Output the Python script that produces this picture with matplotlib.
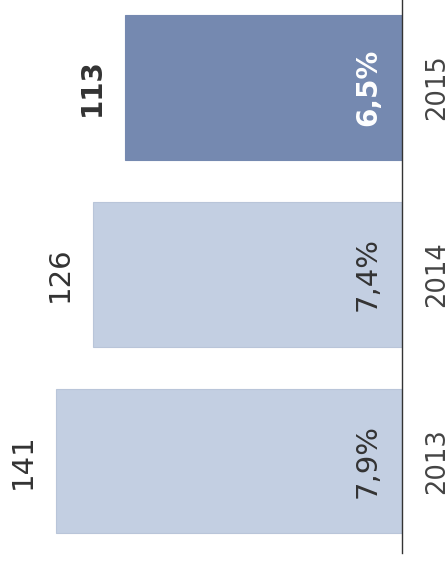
import matplotlib.pyplot as plt

# data
years = ['2013', '2014', '2015']
counts = [141, 126, 113]
shares = ['7,9%', '7,4%', '6,5%']
highlight = [False, False, True]

light = '#c3cfe2'
dark = '#7589b0'
text_col = '#333333'

fig = plt.figure(figsize=(4.48, 5.62), dpi=100)
ax = fig.add_axes([0, 9 / 562, 402 / 448, 553 / 562])

pos = list(range(len(years)))
colors = [dark if h else light for h in highlight]
edges = [dark if h else '#b9c5d9' for h in highlight]
ax.barh(pos, counts, height=0.775, color=colors, edgecolor=edges, linewidth=0.8)

ax.set_xlim(164, 0)
ax.set_ylim(-0.492, 2.468)

for p, c, s, h in zip(pos, counts, shares, highlight):
    w = 'bold' if h else 'normal'
    fs = 20 if h else 21
    # count at the outer end of the bar
    ax.annotate(str(c), (c, p), xytext=(-24, 0), textcoords='offset points',
                ha='center', va='center', rotation=90, fontsize=fs,
                fontweight=w, color=text_col)
    # share inside the bar near the axis
    ax.annotate(s, (0, p), xytext=(-24.5, 0), textcoords='offset points',
                ha='center', va='center', rotation=90, fontsize=fs,
                fontweight=w, color='white' if h else text_col)
    # year on the other side of the axis
    ax.annotate(years[p], (0, p), xytext=(25, 0), textcoords='offset points',
                ha='center', va='center', rotation=90, fontsize=18.5,
                color='#444444', annotation_clip=False)

for side in ['top', 'bottom', 'left']:
    ax.spines[side].set_visible(False)
ax.spines['right'].set_color('#333333')
ax.spines['right'].set_linewidth(1)
ax.set_xticks([])
ax.set_yticks([])
ax.patch.set_alpha(0)

fig.savefig('out.png', dpi=100)
